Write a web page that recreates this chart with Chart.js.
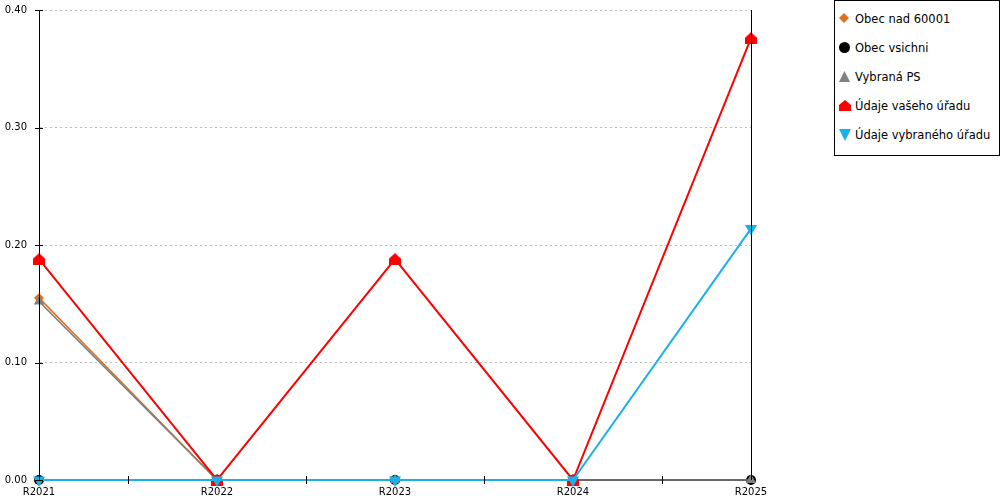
<!DOCTYPE html>
<html>
<head>
<meta charset="utf-8">
<script src="https://cdn.jsdelivr.net/npm/chart.js@4/dist/chart.umd.min.js"></script>
<style>
  html, body { margin: 0; padding: 0; background: #fff; overflow: hidden; }
  #wrap { position: relative; width: 1000px; height: 500px; overflow: hidden; }
  #plot { position: absolute; left: 0; top: -8px; width: 1000px; height: 508px; }
  #legend {
    position: absolute; left: 834px; top: 0; width: 164px; height: 154px;
    border: 1px solid #000; background: #fff;
    font-family: 'DejaVu Sans', sans-serif; font-size: 11.5px; color: #000;
  }
  .item { position: absolute; left: 4px; height: 14px; line-height: 14px; white-space: nowrap; }
  .item svg { position: absolute; left: 0; top: 1px; }
  .item span { position: absolute; left: 16px; top: 0; }
</style>
</head>
<body>
<div id="wrap">
  <div id="plot"><canvas id="chart"></canvas></div>
  <div id="legend"></div>
</div>
<script>
// Data
const years = ['R2021', 'R2022', 'R2023', 'R2024', 'R2025'];
const obecNad60001 = [0.155, 0, 0, 0, 0];
const obecVsichni = [0, 0, 0, 0, 0];
const vybranaPS = [0.152, 0, 0, 0, 0];
const vasehoUradu = [0.188, 0, 0.188, 0, 0.376];
const vybranehoUradu = [0, 0, 0, 0, 0.214];
const yTicks = [0, 0.1, 0.2, 0.3, 0.4];

const seriesNames = ['Obec nad 60001', 'Obec vsichni', 'Vybraná PS', 'Údaje vašeho úřadu', 'Údaje vybraného úřadu'];
const seriesColors = ['#e0701c', '#000000', '#808080', '#ff0000', '#1ab0ec'];

// little "house" marker for the red series
function houseMarker(color, size) {
  const c = document.createElement('canvas');
  c.width = size; c.height = size;
  const g = c.getContext('2d');
  g.fillStyle = color;
  g.beginPath();
  g.moveTo(size / 2, 0);
  g.lineTo(size, size * 0.45);
  g.lineTo(size, size);
  g.lineTo(0, size);
  g.lineTo(0, size * 0.45);
  g.closePath();
  g.fill();
  return c;
}
const house = houseMarker('#ff0000', 12);

// legend built as html, svg shapes for the markers
const legendShapes = [
  '<polygon points="5,0 10,5 5,10 0,5" fill="#e0701c"/>',
  '<circle cx="5.5" cy="5.5" r="5.5" fill="#000"/>',
  '<polygon points="5.5,0 11,11 0,11" fill="#808080"/>',
  '<polygon points="6,0 12,5 12,11 0,11 0,5" fill="#ff0000"/>',
  '<polygon points="0,0 12,0 6,12" fill="#1ab0ec"/>'
];
const legendEl = document.getElementById('legend');
seriesNames.forEach(function(name, i) {
  const div = document.createElement('div');
  div.className = 'item';
  div.style.top = (11 + i * 29) + 'px';
  div.innerHTML = '<svg width="12" height="12">' + legendShapes[i] + '</svg><span>' + name + '</span>';
  legendEl.appendChild(div);
});

// solid axis lines, right border line and the crossing ticks
const framePlugin = {
  id: 'frame',
  afterDraw(chart) {
    const ctx = chart.ctx;
    const a = chart.chartArea;
    ctx.save();
    ctx.strokeStyle = '#000';
    ctx.lineWidth = 1;
    ctx.beginPath();
    ctx.moveTo(Math.round(a.left) + 0.5, a.top);
    ctx.lineTo(Math.round(a.left) + 0.5, a.bottom);
    ctx.moveTo(Math.round(a.right) + 0.5, a.top);
    ctx.lineTo(Math.round(a.right) + 0.5, a.bottom);
    const ys = chart.scales.y;
    yTicks.forEach(function(v) {
      const py = Math.round(ys.getPixelForValue(v)) + 0.5;
      ctx.moveTo(a.left - 4, py);
      ctx.lineTo(a.left + 4, py);
    });
    const xs = chart.scales.x;
    for (let i = 0; i < years.length - 1; i++) {
      const px = Math.round((xs.getPixelForValue(i) + xs.getPixelForValue(i + 1)) / 2) + 0.5;
      ctx.moveTo(px, a.bottom - 4);
      ctx.lineTo(px, a.bottom + 4);
    }
    ctx.stroke();
    ctx.restore();
  }
};

function series(i, data, style, order, extra) {
  return Object.assign({
    label: seriesNames[i],
    data: data,
    borderColor: seriesColors[i],
    backgroundColor: seriesColors[i],
    borderWidth: 1.5,
    pointStyle: style,
    pointRadius: 5,
    pointHoverRadius: 5,
    pointBorderWidth: 0,
    tension: 0,
    clip: false,
    order: order
  }, extra || {});
}

new Chart(document.getElementById('chart'), {
  type: 'line',
  data: {
    labels: years,
    datasets: [
      series(0, obecNad60001, 'rectRot', 5, { pointRadius: 5 }),
      series(1, obecVsichni, 'circle', 4),
      series(2, vybranaPS, 'triangle', 3, { pointRadius: 6 }),
      series(3, vasehoUradu, house, 2, { borderWidth: 2 }),
      series(4, vybranehoUradu, 'triangle', 1, { pointRotation: 180, pointRadius: 7, borderWidth: 2 })
    ]
  },
  options: {
    responsive: true,
    maintainAspectRatio: false,
    animation: false,
    layout: { autoPadding: false, padding: { top: 2, right: 249, bottom: 0, left: 5 } },
    plugins: {
      tooltip: { enabled: false },
      legend: { display: false }
    },
    scales: {
      x: {
        offset: false,
        afterFit: function(axis) { axis.height = 20; },
        grid: { display: false, drawTicks: false },
        border: { color: '#000', width: 1 },
        ticks: {
          color: '#000',
          padding: 6,
          maxRotation: 0,
          font: { family: 'DejaVu Sans', size: 10 }
        }
      },
      y: {
        min: 0,
        max: 0.4,
        afterFit: function(axis) { axis.width = 34; },
        afterBuildTicks: function(axis) {
          axis.ticks = yTicks.map(function(v) { return { value: v }; });
        },
        grid: {
          color: '#bbbbbb',
          drawTicks: false
        },
        border: { color: '#000', width: 1, dash: [2, 3] },
        ticks: {
          color: '#000',
          padding: 12,
          font: { family: 'DejaVu Sans', size: 10 },
          callback: function(v) { return Number(v).toFixed(2); }
        }
      }
    }
  },
  plugins: [framePlugin]
});
</script>
</body>
</html>
